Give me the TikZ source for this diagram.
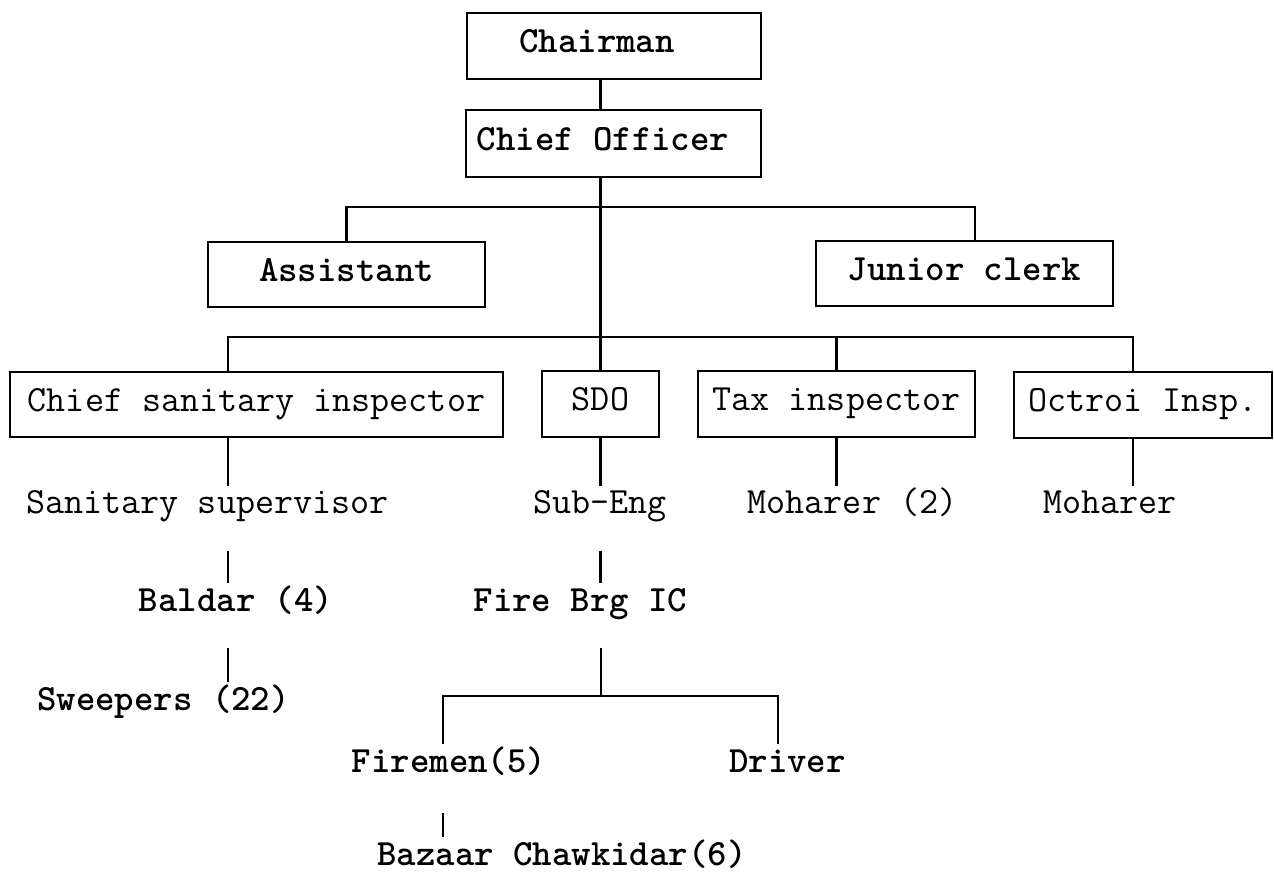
\documentclass[tikz,border=0pt]{standalone}
\usepackage{fontspec}

\tikzset{
  post/.style = {draw, line width=1.3pt, inner sep=0pt, minimum height=33pt,
    text height=10pt, text depth=3pt,
    font=\ttfamily\fontsize{18.5}{20}\selectfont},
  strong/.style = {font=\ttfamily\bfseries\fontsize{18.5}{20}\selectfont},
  lbl/.style = {anchor=base, inner xsep=0pt, inner ysep=4pt,
    text height=10pt, text depth=3pt,
    font=\ttfamily\fontsize{18.5}{20}\selectfont},
  link/.style = {line width=1.1pt},
  gap/.style = {shorten <=11.5pt},
}

\begin{document}
\begin{tikzpicture}[x=0.5pt,y=-0.5pt]
  \useasboundingbox (0,0) rectangle (1274,876);

  % boxed posts
  \node[post,strong,minimum width=147pt] (chair) at (614,46) {\hspace*{-17pt}Chairman};
  \node[post,strong,minimum width=147.5pt,minimum height=33.5pt] (chief) at (613.5,143.5) {\hspace*{-10.5pt}Chief Officer};
  \node[post,strong,minimum width=138.5pt,minimum height=32.5pt] (assist) at (346.5,274.5) {Assistant};
  \node[post,strong,minimum width=148.5pt,minimum height=32.5pt] (junior) at (964.5,273.5) {Junior clerk};
  \node[post,minimum width=246.5pt,minimum height=32.5pt] (csi) at (256.5,404.5) {Chief sanitary inspector};
  \node[post,minimum width=58.5pt] (sdo) at (600.5,404) {SDO};
  \node[post,minimum width=138.5pt] (tax) at (836.5,404) {Tax inspector};
  \node[post,minimum width=129pt] (octroi) at (1143,405) {Octroi Insp.};

  % staff without boxes
  \foreach \name/\x/\txt in {ssup/207.5/Sanitary supervisor, subeng/600/Sub-Eng,
      mohartwo/852.5/Moharer (2), mohar/1110/Moharer} {
    \node[lbl] (\name) at (\x,514) {\txt};
  };
  \node[lbl,strong] (baldar) at (236,611) {Baldar (4)};
  \node[lbl,strong] (firebrg) at (580.5,611) {Fire Brg IC};
  \node[lbl,strong] (sweepers) at (163.5,710) {Sweepers (22)};
  \node[lbl,strong] (firemen) at (449,772) {Firemen(5)};
  \node[lbl,strong] (driver) at (787.5,772) {Driver};
  \node[lbl,strong] (bazaar) at (562,865) {Bazaar Chawkidar(6)};

  \coordinate (colA) at (228,0);
  \coordinate (colB) at (443,0);
  \coordinate (colD) at (1133,0);
  \coordinate (fork) at (601,696);

  % lines
  \draw[link] (chair.south -| sdo.north) -- (chief.north -| sdo.north);
  \draw[link] (chief.south -| sdo.north) -- (sdo.north);
  \draw[link] (assist.north) -- ++(0,-34) -| ([xshift=5.25pt]junior.north);
  \draw[link] (csi.north -| colA) -- ++(0,-34) -| (octroi.north -| colD);
  \draw[link] (tax.north) -- ++(0,-33);

  \draw[link] (csi.south -| colA) -- (ssup.north -| colA);
  \draw[link] (sdo.south) -- (subeng.north -| sdo.south);
  \draw[link] (tax.south) -- (mohartwo.north -| tax.south);
  \draw[link] (octroi.south -| colD) -- (mohar.north -| colD);

  \draw[link,gap] (ssup.south -| colA) -- (baldar.north -| colA);
  \draw[link,gap] (baldar.south -| colA) -- (sweepers.north -| colA);
  \draw[link,gap] (subeng.south -| sdo.south) -- (firebrg.north -| sdo.south);
  \draw[link,gap] (firebrg.south -| fork) -- (fork);
  \draw[link] (firemen.north -| colB) |- (fork) -| ([xshift=-4.75pt]driver.north);
  \draw[link,shorten <=13.5pt] (firemen.south -| colB) -- (bazaar.north -| colB);
\end{tikzpicture}
\end{document}
